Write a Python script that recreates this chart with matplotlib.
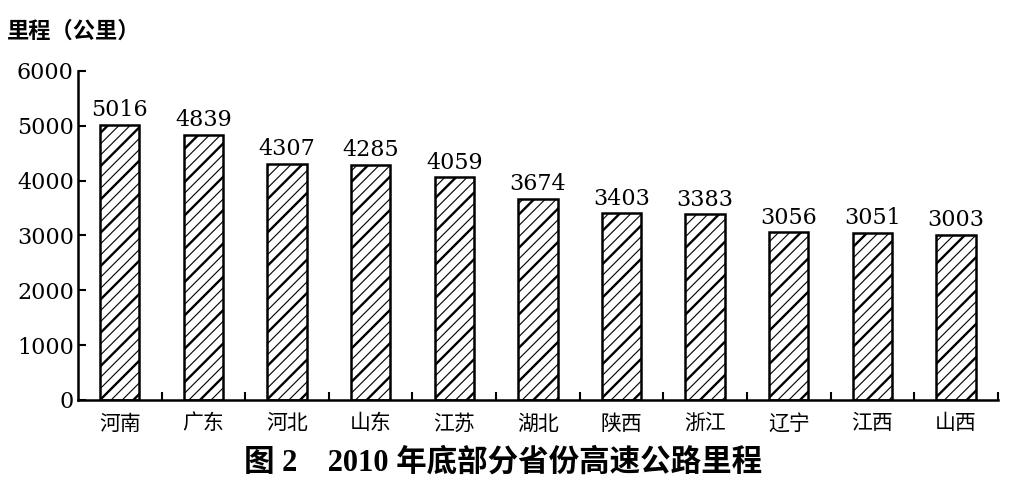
import numpy as np
import matplotlib
matplotlib.use('Agg')
from matplotlib import pyplot as plt

provinces = ['河南', '广东', '河北', '山东', '江苏', '湖北',
             '陕西', '浙江', '辽宁', '江西', '山西']
mileage = [5016, 4839, 4307, 4285, 4059, 3674, 3403, 3383, 3056, 3051, 3003]
y_ticks = [0, 1000, 2000, 3000, 4000, 5000, 6000]

serif = ['DejaVu Serif', 'Noto Sans CJK SC']
title_font = ['Liberation Serif', 'Noto Sans CJK SC']
cjk = ['Noto Sans CJK SC', 'DejaVu Sans']

fig = plt.figure(figsize=(10.13, 4.86), dpi=100)
ax = fig.add_axes([0.077, 0.177, 0.908, 0.677])

x = np.arange(len(provinces))
width = 0.47

# thin dense hatch underneath, thicker sparse hatch on top
with plt.rc_context({'hatch.linewidth': 0.8}):
    thin = ax.bar(x, mileage, width, facecolor='white', edgecolor='black',
                  hatch='///', linewidth=0)
with plt.rc_context({'hatch.linewidth': 1.7}):
    thick = ax.bar(x, mileage, width, facecolor='none', edgecolor='black',
                   hatch='/', linewidth=0)
for bars, hlw in ((thin, 0.8), (thick, 1.7)):
    for b in bars:
        if hasattr(b, 'set_hatch_linewidth'):
            b.set_hatch_linewidth(hlw)
ax.bar(x, mileage, width, facecolor='none', edgecolor='black', linewidth=1.8)

for xi, v in zip(x, mileage):
    ax.text(xi, v + 70, str(v), ha='center', va='bottom',
            family=serif, fontsize=16)

ax.set_xlim(-0.5, len(provinces) - 0.5)
ax.set_ylim(0, 6000)
ax.set_yticks(y_ticks)
ax.set_yticklabels([str(t) for t in y_ticks], family=serif, fontsize=16)
ax.set_xticks(x)
ax.set_xticklabels(provinces, family=cjk, fontsize=15)
ax.set_xticks(x + 0.5, minor=True)

ax.tick_params(axis='y', direction='in', length=6, width=1.5, pad=3)
ax.tick_params(axis='x', which='major', length=0, pad=9)
ax.tick_params(axis='x', which='minor', direction='in', length=6, width=1.5)

for side in ('top', 'right'):
    ax.spines[side].set_visible(False)
for side in ('left', 'bottom'):
    ax.spines[side].set_linewidth(1.8)

fig.text(0.007, 0.935, '里程（公里）', family=cjk, fontsize=16,
         fontweight='bold', ha='left', va='center')
fig.text(0.497, 0.048, '图 2　2010 年底部分省份高速公路里程', family=title_font,
         fontsize=22, fontweight='bold', ha='center', va='center')

fig.savefig('out.png', dpi=100)
